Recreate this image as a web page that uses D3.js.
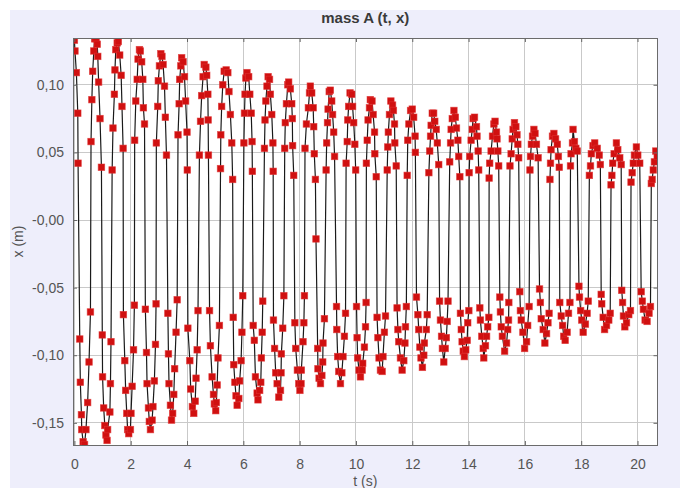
<!DOCTYPE html>
<html><head><meta charset="utf-8">
<script src="https://cdn.jsdelivr.net/npm/d3@7"></script>
<style>
html,body{margin:0;padding:0;background:#fff;}
svg{display:block;}
text{font-family:"Liberation Sans",Arial,sans-serif;}
</style></head>
<body>
<svg id="chart" width="680" height="488"></svg>
<script>
// ---- data ----
const chartTitle = "mass A (t, x)";
const xAxisLabel = "t (s)";
const yAxisLabel = "x (m)";
const xTickValues = [0,2,4,6,8,10,12,14,16,18,20];
const xTickLabels = ["0","2","4","6","8","10","12","14","16","18","20"];
const yTickValues = [0.10,0.05,0,-0.05,-0.10,-0.15];
const yTickLabels = ["0,10","0,05","-0,00","-0,05","-0,10","-0,15"];
const xDomain = [-0.05, 20.71];
const yDomain = [-0.1664, 0.1346];

// [t (s), x (m)] samples of mass A
const massA = [
[0,0.133],[0.02,0.125],[0.07,0.109],[0.12,0.079],[0.13,0.042],
[0.19,-0.088],[0.21,-0.120],[0.25,-0.144],[0.26,-0.155],[0.31,-0.164],[0.36,-0.166],[0.41,-0.155],[0.47,-0.135],[0.52,-0.105],[0.57,-0.068],
[0.59,0.058],[0.62,0.089],[0.65,0.110],[0.69,0.125],[0.72,0.134],[0.77,0.134],[0.81,0.130],[0.83,0.121],[0.86,0.102],[0.91,0.075],[0.96,0.039],
[0.99,-0.085],[1.00,-0.116],[1.04,-0.139],[1.08,-0.152],[1.12,-0.159],[1.16,-0.163],[1.18,-0.155],[1.26,-0.142],[1.28,-0.121],[1.30,-0.090],
[1.34,0.037],[1.37,0.068],[1.42,0.093],[1.44,0.111],[1.47,0.126],[1.52,0.131],[1.56,0.132],[1.61,0.122],[1.66,0.107],[1.69,0.084],[1.73,0.053],
[1.74,-0.070],[1.79,-0.104],[1.82,-0.126],[1.86,-0.143],[1.89,-0.155],[1.93,-0.158],[1.99,-0.155],[2.01,-0.143],[2.05,-0.123],[2.10,-0.096],[2.13,-0.063],
[2.14,0.059],[2.18,0.088],[2.23,0.104],[2.26,0.119],[2.31,0.126],[2.34,0.125],[2.39,0.117],[2.43,0.104],[2.45,0.083],[2.49,0.071],
[2.52,-0.066],[2.56,-0.098],[2.58,-0.121],[2.63,-0.139],[2.66,-0.149],[2.70,-0.155],[2.76,-0.148],[2.79,-0.138],[2.84,-0.119],[2.88,-0.092],[2.90,-0.062],
[2.91,0.057],[2.96,0.084],[2.98,0.103],[3.02,0.114],[3.07,0.123],[3.11,0.121],[3.15,0.115],[3.20,0.099],[3.23,0.076],[3.27,0.048],
[3.32,-0.069],[3.34,-0.099],[3.36,-0.121],[3.41,-0.137],[3.45,-0.148],[3.49,-0.143],[3.53,-0.129],[3.56,-0.110],[3.61,-0.083],[3.65,-0.059],
[3.68,0.063],[3.72,0.086],[3.74,0.104],[3.78,0.114],[3.81,0.120],[3.86,0.117],[3.91,0.106],[3.95,0.088],[4.00,0.065],[4.01,0.037],
[4.03,-0.080],[4.10,-0.104],[4.13,-0.125],[4.19,-0.138],[4.24,-0.143],[4.29,-0.134],[4.32,-0.117],[4.36,-0.096],[4.39,-0.067],
[4.44,0.048],[4.48,0.073],[4.52,0.092],[4.57,0.106],[4.61,0.115],[4.67,0.113],[4.70,0.107],[4.74,0.093],[4.75,0.074],[4.76,0.048],
[4.80,-0.067],[4.83,-0.093],[4.89,-0.116],[4.94,-0.129],[4.97,-0.136],[5.02,-0.141],[5.04,-0.135],[5.07,-0.122],[5.10,-0.102],[5.15,-0.078],
[5.19,0.038],[5.20,0.063],[5.23,0.084],[5.27,0.100],[5.32,0.110],[5.39,0.111],[5.45,0.109],[5.49,0.095],[5.54,0.078],[5.59,0.057],[5.62,0.030],
[5.64,-0.072],[5.66,-0.107],[5.70,-0.120],[5.74,-0.130],[5.78,-0.137],[5.84,-0.132],[5.87,-0.119],[5.92,-0.104],[5.95,-0.083],[5.98,-0.056],
[6.02,0.057],[6.04,0.079],[6.06,0.093],[6.09,0.105],[6.13,0.109],[6.19,0.106],[6.23,0.093],[6.28,0.079],[6.31,0.058],[6.32,0.036],
[6.35,-0.078],[6.39,-0.089],[6.43,-0.116],[6.49,-0.128],[6.52,-0.133],[6.58,-0.126],[6.62,-0.120],[6.64,-0.102],[6.67,-0.083],[6.69,-0.060],
[6.75,0.053],[6.77,0.074],[6.80,0.088],[6.84,0.099],[6.88,0.106],[6.93,0.104],[6.96,0.093],[7.01,0.078],[7.05,0.057],[7.06,0.036],
[7.07,-0.074],[7.11,-0.095],[7.15,-0.113],[7.20,-0.121],[7.26,-0.131],[7.32,-0.126],[7.34,-0.113],[7.35,-0.099],[7.40,-0.080],[7.44,-0.056],
[7.47,0.053],[7.49,0.072],[7.53,0.086],[7.58,0.100],[7.61,0.102],[7.67,0.097],[7.72,0.086],[7.74,0.075],[7.75,0.055],[7.79,0.033],
[7.83,-0.076],[7.86,-0.095],[7.92,-0.111],[7.97,-0.121],[8.01,-0.126],[8.05,-0.121],[8.06,-0.111],[8.12,-0.090],[8.15,-0.076],[8.17,-0.056],
[8.19,0.053],[8.24,0.071],[8.31,0.083],[8.35,0.094],[8.38,0.099],[8.43,0.094],[8.48,0.083],[8.50,0.069],[8.52,0.049],[8.56,0.030],[8.58,-0.014],
[8.64,-0.095],[8.65,-0.110],[8.69,-0.117],[8.74,-0.121],[8.79,-0.115],[8.82,-0.105],[8.83,-0.091],[8.88,-0.073],
[8.94,0.037],[8.96,0.057],[8.99,0.072],[9.01,0.082],[9.05,0.095],[9.09,0.096],[9.14,0.088],[9.17,0.078],[9.21,0.065],[9.24,0.047],
[9.31,-0.064],[9.32,-0.081],[9.35,-0.101],[9.39,-0.112],[9.45,-0.121],[9.50,-0.113],[9.54,-0.101],[9.59,-0.086],[9.63,-0.069],
[9.65,0.042],[9.69,0.058],[9.71,0.074],[9.74,0.084],[9.79,0.094],[9.85,0.093],[9.88,0.084],[9.92,0.072],[9.96,0.056],[9.99,0.037],
[10.02,-0.064],[10.04,-0.087],[10.06,-0.102],[10.11,-0.111],[10.16,-0.116],[10.22,-0.111],[10.24,-0.106],[10.30,-0.094],[10.34,-0.079],[10.36,-0.061],
[10.37,0.042],[10.40,0.059],[10.43,0.074],[10.48,0.083],[10.51,0.089],[10.57,0.088],[10.61,0.078],[10.66,0.065],[10.67,0.049],[10.72,0.032],
[10.75,-0.072],[10.78,-0.087],[10.82,-0.102],[10.87,-0.111],[10.93,-0.112],[10.96,-0.101],[11.01,-0.083],[11.05,-0.071],
[11.11,0.037],[11.13,0.054],[11.15,0.065],[11.19,0.078],[11.24,0.088],[11.30,0.085],[11.33,0.081],[11.37,0.071],[11.38,0.057],[11.43,0.040],
[11.46,-0.065],[11.49,-0.081],[11.52,-0.090],[11.58,-0.102],[11.64,-0.111],[11.70,-0.104],[11.74,-0.091],[11.76,-0.079],[11.79,-0.064],
[11.82,0.033],[11.84,0.059],[11.88,0.071],[11.94,0.081],[12.00,0.082],[12.05,0.076],[12.10,0.062],[12.11,0.050],
[12.15,-0.057],[12.20,-0.070],[12.23,-0.081],[12.27,-0.094],[12.31,-0.102],[12.36,-0.109],[12.41,-0.100],[12.43,-0.091],[12.50,-0.081],[12.53,-0.070],
[12.59,0.035],[12.62,0.051],[12.65,0.062],[12.67,0.070],[12.71,0.079],[12.76,0.079],[12.80,0.073],[12.85,0.067],[12.89,0.057],[12.94,0.041],
[12.97,-0.060],[13.00,-0.074],[13.04,-0.086],[13.07,-0.095],[13.12,-0.105],[13.17,-0.095],[13.21,-0.087],[13.24,-0.075],[13.27,-0.060],
[13.33,0.043],[13.36,0.057],[13.38,0.067],[13.42,0.075],[13.48,0.081],[13.53,0.076],[13.57,0.068],[13.62,0.059],[13.65,0.047],[13.69,0.032],
[13.71,-0.069],[13.74,-0.081],[13.77,-0.090],[13.81,-0.097],[13.85,-0.101],[13.90,-0.096],[13.95,-0.089],[13.97,-0.076],[14.01,-0.067],
[14.02,0.035],[14.04,0.047],[14.09,0.059],[14.13,0.067],[14.16,0.075],[14.21,0.076],[14.28,0.069],[14.30,0.062],[14.34,0.051],[14.36,0.037],
[14.40,-0.065],[14.42,-0.074],[14.47,-0.086],[14.52,-0.095],[14.54,-0.102],[14.60,-0.093],[14.64,-0.086],[14.68,-0.079],[14.72,-0.072],
[14.73,0.031],[14.75,0.042],[14.80,0.051],[14.85,0.062],[14.90,0.071],[14.94,0.073],[14.99,0.065],[15.01,0.060],[15.04,0.051],[15.07,0.040],
[15.11,-0.057],[15.13,-0.068],[15.16,-0.079],[15.20,-0.086],[15.28,-0.097],[15.35,-0.091],[15.39,-0.081],[15.42,-0.074],[15.43,-0.061],
[15.47,0.040],[15.51,0.049],[15.55,0.060],[15.58,0.067],[15.63,0.072],[15.68,0.069],[15.72,0.063],[15.75,0.056],[15.78,0.046],
[15.82,-0.053],[15.84,-0.067],[15.87,-0.074],[15.93,-0.083],[15.99,-0.095],[16.06,-0.090],[16.10,-0.078],[16.15,-0.064],
[16.18,0.037],[16.20,0.047],[16.23,0.056],[16.27,0.062],[16.32,0.067],[16.36,0.064],[16.41,0.056],[16.47,0.046],
[16.52,-0.051],[16.55,-0.061],[16.58,-0.073],[16.65,-0.081],[16.71,-0.091],[16.77,-0.084],[16.82,-0.076],[16.86,-0.069],
[16.89,0.030],[16.91,0.042],[16.93,0.052],[16.98,0.062],[17.03,0.064],[17.09,0.060],[17.15,0.056],[17.19,0.047],[17.22,0.039],
[17.24,-0.061],[17.29,-0.071],[17.34,-0.078],[17.38,-0.086],[17.43,-0.089],[17.50,-0.083],[17.55,-0.069],[17.60,-0.061],
[17.62,0.040],[17.64,0.049],[17.69,0.057],[17.71,0.067],[17.76,0.058],[17.81,0.053],[17.86,0.051],
[17.92,-0.049],[17.94,-0.057],[17.98,-0.067],[18.02,-0.074],[18.07,-0.083],[18.15,-0.077],[18.21,-0.069],[18.25,-0.060],
[18.29,0.033],[18.33,0.040],[18.36,0.049],[18.42,0.055],[18.48,0.057],[18.57,0.053],[18.64,0.048],[18.68,0.041],
[18.71,-0.055],[18.73,-0.062],[18.78,-0.072],[18.83,-0.081],[18.90,-0.078],[18.98,-0.074],[19.03,-0.069],
[19.06,0.026],[19.09,0.033],[19.12,0.042],[19.17,0.049],[19.25,0.057],[19.30,0.052],[19.37,0.046],[19.42,0.041],
[19.44,-0.052],[19.47,-0.061],[19.50,-0.071],[19.55,-0.079],[19.61,-0.076],[19.69,-0.070],[19.75,-0.067],
[19.77,0.028],[19.81,0.035],[19.85,0.042],[19.89,0.048],[19.96,0.054],[20.01,0.048],[20.08,0.042],
[20.13,-0.053],[20.17,-0.060],[20.21,-0.066],[20.27,-0.074],[20.34,-0.075],[20.41,-0.069],[20.46,-0.064],
[20.49,0.027],[20.52,0.030],[20.56,0.037],[20.60,0.043],[20.65,0.051],[20.70,0.047]
];

// ---- drawing ----
const W = 680, H = 488;
const plot = {left: 73, right: 657.5, top: 38, bottom: 445};
const svg = d3.select("#chart");

svg.append("rect").attr("x", 10).attr("y", 10).attr("width", W - 10).attr("height", H - 10)
  .attr("fill", "#eeeefb");

const x = d3.scaleLinear().domain(xDomain).range([plot.left, plot.right]);
const y = d3.scaleLinear().domain(yDomain).range([plot.bottom, plot.top]);

svg.append("rect").attr("x", plot.left).attr("y", plot.top)
  .attr("width", plot.right - plot.left).attr("height", plot.bottom - plot.top)
  .attr("fill", "#ffffff");

// grid
const grid = svg.append("g");
grid.selectAll("line.v").data(xTickValues).join("line")
  .attr("x1", d => x(d)).attr("x2", d => x(d))
  .attr("y1", plot.top).attr("y2", plot.bottom)
  .attr("stroke", "#c9c9c9").attr("stroke-width", 1).attr("shape-rendering", "crispEdges");
grid.selectAll("line.h").data(yTickValues).join("line")
  .attr("y1", d => y(d)).attr("y2", d => y(d))
  .attr("x1", plot.left).attr("x2", plot.right)
  .attr("stroke", "#c9c9c9").attr("stroke-width", 1).attr("shape-rendering", "crispEdges");

// clip
svg.append("clipPath").attr("id", "clip").append("rect")
  .attr("x", plot.left).attr("y", plot.top)
  .attr("width", plot.right - plot.left).attr("height", plot.bottom - plot.top);

const g = svg.append("g").attr("clip-path", "url(#clip)");
const line = d3.line().x(d => x(d[0])).y(d => y(d[1]));
g.append("path").datum(massA).attr("d", line)
  .attr("fill", "none").attr("stroke", "#1a1a1a").attr("stroke-width", 1.2);

const ms = 6.5;
g.selectAll("rect.m").data(massA).join("rect")
  .attr("x", d => x(d[0]) - ms / 2).attr("y", d => y(d[1]) - ms / 2)
  .attr("width", ms).attr("height", ms)
  .attr("fill", "#d01010").attr("stroke", "#e03030").attr("stroke-width", 0.8)
  .attr("stroke-opacity", 0.7);

// axes (ticks inward)
const fmtX = d => xTickLabels[xTickValues.indexOf(d)];
const fmtY = d => yTickLabels[yTickValues.indexOf(d)];

const axB = svg.append("g").attr("transform", `translate(0,${plot.bottom})`)
  .call(d3.axisBottom(x).tickValues(xTickValues).tickFormat(fmtX).tickSizeInner(-4).tickSizeOuter(0).tickPadding(14));
const axT = svg.append("g").attr("transform", `translate(0,${plot.top})`)
  .call(d3.axisTop(x).tickValues(xTickValues).tickFormat("").tickSizeInner(-4).tickSizeOuter(0));
const axL = svg.append("g").attr("transform", `translate(${plot.left},0)`)
  .call(d3.axisLeft(y).tickValues(yTickValues).tickFormat(fmtY).tickSizeInner(-4).tickSizeOuter(0).tickPadding(9));
const axR = svg.append("g").attr("transform", `translate(${plot.right},0)`)
  .call(d3.axisRight(y).tickValues(yTickValues).tickFormat("").tickSizeInner(-4).tickSizeOuter(0));

[axB, axT, axL, axR].forEach(a => {
  a.select(".domain").remove();
  a.selectAll(".tick line").attr("stroke", "#666");
  a.selectAll("text").attr("fill", "#555").attr("font-size", 14)
    .attr("font-family", "'Liberation Sans', Arial, sans-serif");
});

// frame
svg.append("rect").attr("x", plot.left).attr("y", plot.top)
  .attr("width", plot.right - plot.left).attr("height", plot.bottom - plot.top)
  .attr("fill", "none").attr("stroke", "#6b6b6b").attr("stroke-width", 1)
  .attr("shape-rendering", "crispEdges");

// titles
svg.append("text").attr("x", (plot.left + plot.right) / 2).attr("y", 23)
  .attr("text-anchor", "middle").attr("font-weight", "bold").attr("font-size", 15)
  .attr("fill", "#3a3a3a").text(chartTitle);
svg.append("text").attr("x", (plot.left + plot.right) / 2).attr("y", 486)
  .attr("text-anchor", "middle").attr("font-size", 14).attr("fill", "#555").text(xAxisLabel);
svg.append("text").attr("transform", `translate(23,${(plot.top + plot.bottom) / 2}) rotate(-90)`)
  .attr("text-anchor", "middle").attr("font-size", 14).attr("fill", "#555").text(yAxisLabel);
</script>
</body></html>
